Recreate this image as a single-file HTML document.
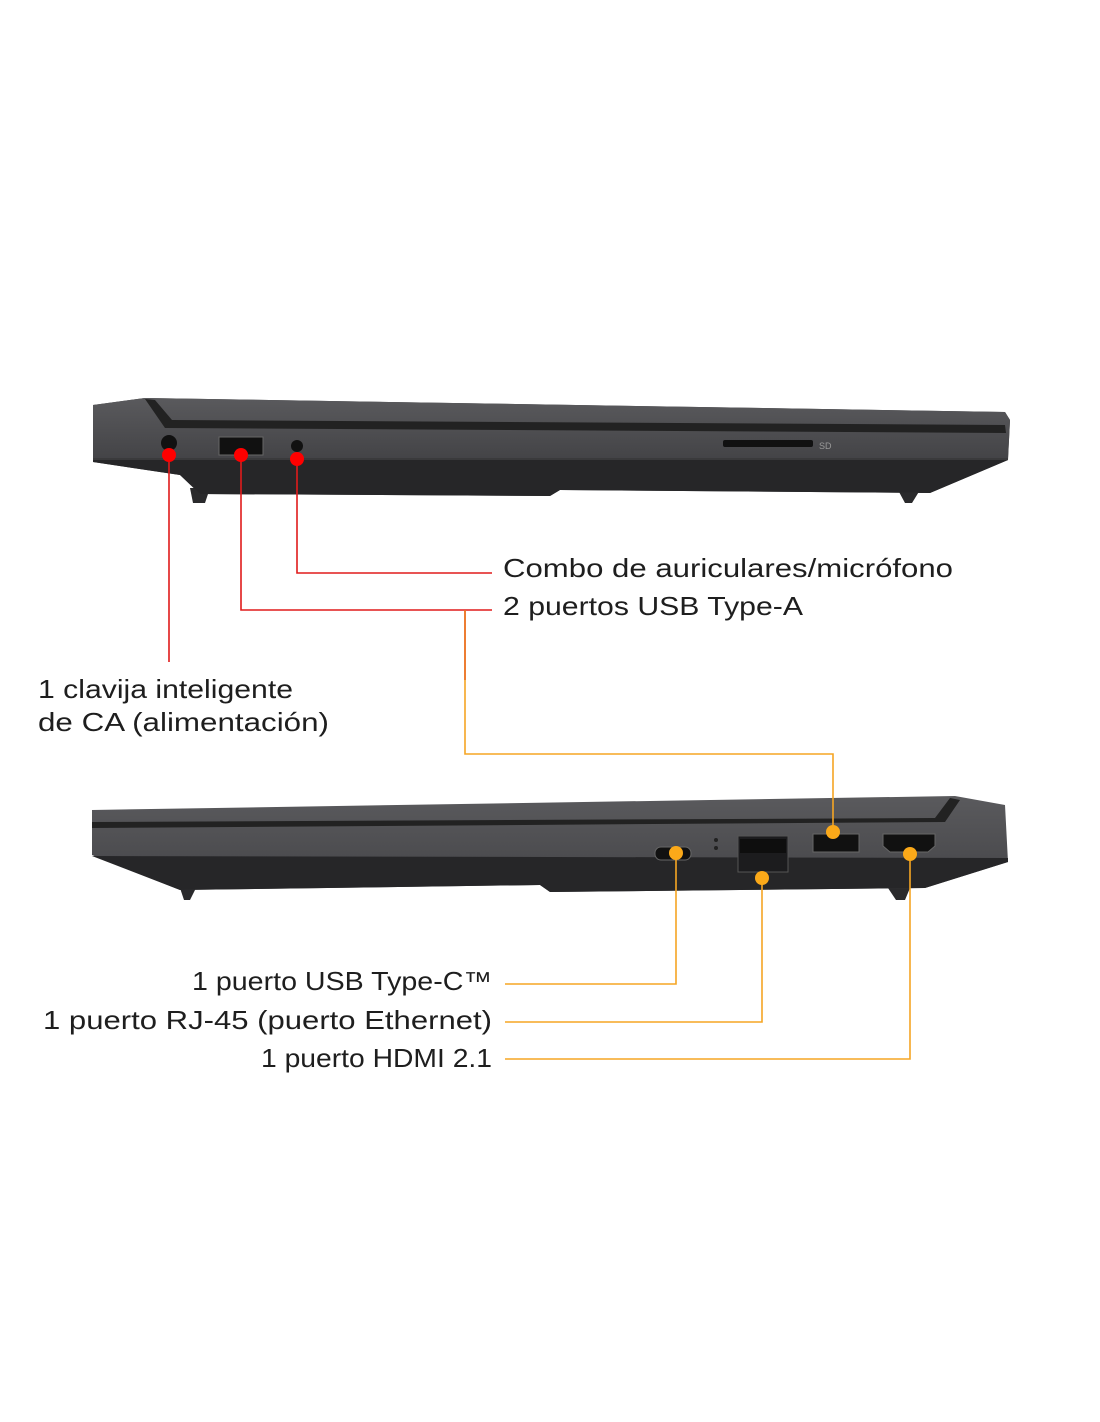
<!DOCTYPE html>
<html><head><meta charset="utf-8"><style>
html,body{margin:0;padding:0;background:#fff;}
svg{display:block}
text{font-family:"Liberation Sans",sans-serif;fill:#1e1e1e;font-size:26px}
</style></head><body>
<svg width="1100" height="1422" viewBox="0 0 1100 1422">
<defs>
<linearGradient id="g1" x1="0" y1="0" x2="0" y2="1"><stop offset="0" stop-color="#5a5a5d"/><stop offset="1" stop-color="#444447"/></linearGradient>
</defs>
<!-- top laptop -->
<polygon points="190,488 210,488 205,503 193,503" fill="#2a2a2c"/>
<polygon points="898,490 920,490 912,503 905,503" fill="#2a2a2c"/>
<polygon points="93,405 145,398 1005,412 1010,420 1008,460 930,493 560,490 550,496 200,494 180,475 93,462" fill="#3a3a3c"/>
<polygon points="93,405 145,398 1005,412 1010,420 1008,458 93,458" fill="url(#g1)"/>
<polygon points="145,399 155,400 172,420 1005,425 1006,433 165,428" fill="#222"/>
<polygon points="93,460 1008,460 930,493 560,490 550,496 200,494 180,475 93,462" fill="#262628"/>
<circle cx="169" cy="443" r="8" fill="#111"/>
<rect x="219" y="437" width="44" height="18" fill="#111" stroke="#666"/>
<circle cx="297" cy="446" r="6" fill="#111"/>
<rect x="723" y="440" width="90" height="7" rx="2" fill="#111"/>
<text x="819" y="449" style="font-size:9px;fill:#999">SD</text>
<!-- bottom laptop -->
<polygon points="180,888 196,888 190,900 184,900" fill="#2a2a2c"/>
<polygon points="888,888 910,888 905,900 896,900" fill="#2a2a2c"/>
<polygon points="92,810 955,796 1005,805 1008,862 925,888 550,892 540,885 180,890 92,855" fill="url(#g1)"/>
<polygon points="92,828 945,822 960,800 950,798 935,818 92,822" fill="#222"/>
<polygon points="92,856 1008,858 1008,862 925,888 550,892 540,885 180,890" fill="#262628"/>
<rect x="655" y="847" width="36" height="13" rx="6" fill="#111" stroke="#666"/>
<circle cx="716" cy="840" r="2" fill="#222"/><circle cx="716" cy="848" r="2" fill="#222"/>
<rect x="738" y="836" width="50" height="36" fill="#1c1c1e" stroke="#555"/>
<rect x="740" y="839" width="46" height="14" fill="#0e0e0e"/>
<rect x="813" y="834" width="46" height="18" fill="#111" stroke="#666"/>
<polygon points="883,834 935,834 935,846 928,852 890,852 883,846" fill="#111" stroke="#666"/>
<!-- red connectors -->
<g stroke="#e01b1b" stroke-width="1.6" fill="none">
<polyline points="169,455 169,662"/>
<polyline points="241,455 241,610 492,610"/>
<polyline points="297,459 297,573 492,573"/>
</g>
<g fill="#ff0000"><circle cx="169" cy="455" r="7"/><circle cx="241" cy="455" r="7"/><circle cx="297" cy="459" r="7"/></g>
<!-- orange connectors -->
<g stroke="#f5a524" stroke-width="1.6" fill="none">
<polyline points="465,610 465,754 833,754 833,832"/>
<polyline points="676,853 676,984 505,984"/>
<polyline points="762,878 762,1022 505,1022"/>
<polyline points="910,854 910,1059 505,1059"/>
</g>
<polyline points="465,610 465,680" stroke="#ea6a20" stroke-width="1.6" fill="none"/>
<g fill="#fba919"><circle cx="833" cy="832" r="7"/><circle cx="676" cy="853" r="7"/><circle cx="762" cy="878" r="7"/><circle cx="910" cy="854" r="7"/></g>
<!-- labels -->
<text x="503" y="577" textLength="450" lengthAdjust="spacingAndGlyphs">Combo de auriculares/micrófono</text>
<text x="503" y="615" textLength="300" lengthAdjust="spacingAndGlyphs">2 puertos USB Type-A</text>
<text x="38" y="698" textLength="255" lengthAdjust="spacingAndGlyphs">1 clavija inteligente</text>
<text x="38" y="731" textLength="291" lengthAdjust="spacingAndGlyphs">de CA (alimentación)</text>
<text x="192" y="990" textLength="300" lengthAdjust="spacingAndGlyphs">1 puerto USB Type-C™</text>
<text x="43" y="1029" textLength="449" lengthAdjust="spacingAndGlyphs">1 puerto RJ-45 (puerto Ethernet)</text>
<text x="261" y="1067" textLength="231" lengthAdjust="spacingAndGlyphs">1 puerto HDMI 2.1</text>
</svg>
</body></html>
